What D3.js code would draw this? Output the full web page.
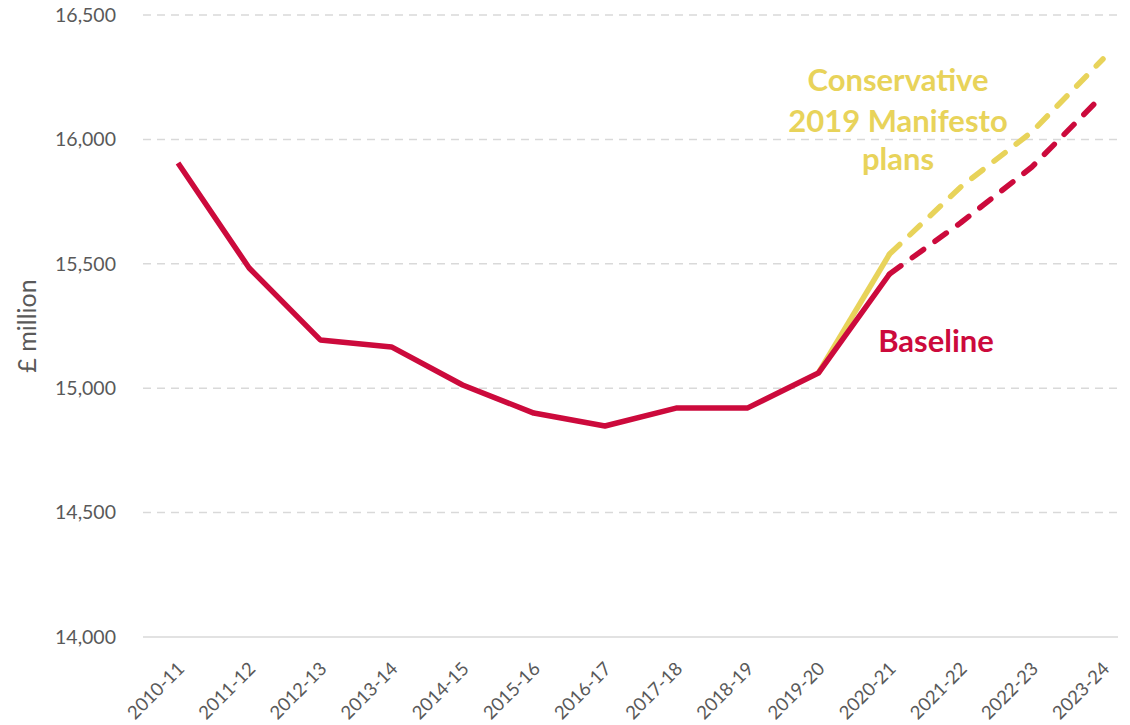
<!DOCTYPE html>
<html><head><meta charset="utf-8">
<script src="https://cdn.jsdelivr.net/npm/d3@7"></script>
<style>body{margin:0;background:#fff;} svg{display:block;font-family:Lato,"Open Sans",sans-serif;}</style>
</head><body>
<svg id="c" width="1130" height="725"></svg>
<script>
const categories = ["2010-11","2011-12","2012-13","2013-14","2014-15","2015-16","2016-17","2017-18","2018-19","2019-20","2020-21","2021-22","2022-23","2023-24"];
const baselineActual = [15905,15483,15194,15166,15013,14900,14848,14920,14920,15061,15459,null,null,null];
const baselineProjected = [null,null,null,null,null,null,null,null,null,null,15459,15665,15889,16178];
const conservativeActual = [null,null,null,null,null,null,null,null,null,15061,15539,null,null,null];
const conservativeProjected = [null,null,null,null,null,null,null,null,null,null,15539,15809,16030,16323];
const yTicks = [14000,14500,15000,15500,16000,16500];

const svg = d3.select("#c");
const x = d3.scalePoint().domain(categories).range([178,1103]);
const y = d3.scaleLinear().domain([14000,16500]).range([637,15]);
const red = "#CC0A3C", yellow = "#E8D35A", grey = "#595959";

// gridlines
svg.append("g").selectAll("line").data(yTicks).join("line")
  .attr("x1",143).attr("x2",1118)
  .attr("y1",d=>y(d)).attr("y2",d=>y(d))
  .attr("stroke","#d9d9d9").attr("stroke-width",1.5)
  .attr("stroke-dasharray",d=>d===14000?null:"8,6");

// y axis labels
const yAxis = d3.axisLeft(y).tickValues(yTicks).tickFormat(d3.format(",")).tickSize(0).tickPadding(0);
const gy = svg.append("g").attr("transform","translate(116,0)").call(yAxis);
gy.select(".domain").remove();
gy.selectAll("text").attr("fill",grey).style("font-size","19.5px").style("font-family","Lato,'Open Sans',sans-serif");

svg.append("text").attr("transform","translate(36,326) rotate(-90)")
  .attr("text-anchor","middle").attr("fill",grey).style("font-size","25px").text("£ million");

// x axis
const xAxis = d3.axisBottom(x).tickSize(0).tickPadding(0);
const gx = svg.append("g").attr("transform","translate(0,637)").call(xAxis);
gx.select(".domain").remove();
gx.selectAll("text").attr("fill",grey).style("font-size","18.5px").style("font-family","Lato,'Open Sans',sans-serif")
  .attr("text-anchor","end").attr("dy",null).attr("y",0)
  .attr("transform","translate(7,33) rotate(-45)");

const line = d3.line().defined(d=>d!=null).x((d,i)=>x(categories[i])).y(d=>y(d));
function draw(data,color,dash){
  svg.append("path").datum(data).attr("d",line).attr("fill","none")
    .attr("stroke",color).attr("stroke-width",5.5).attr("stroke-linejoin","round")
    .attr("stroke-linecap",dash?"round":"butt")
    .attr("stroke-dasharray",dash?"14,14":null);
}
draw(conservativeActual,yellow,false);
draw(conservativeProjected,yellow,true);
draw(baselineActual,red,false);
draw(baselineProjected,red,true);

// annotations
const ann = svg.append("g").attr("text-anchor","middle").style("font-size","31px").style("font-weight","bold");
ann.append("text").attr("x",898).attr("y",91).attr("fill",yellow).text("Conservative");
ann.append("text").attr("x",898).attr("y",132).attr("fill",yellow).text("2019 Manifesto");
ann.append("text").attr("x",898).attr("y",170).attr("fill",yellow).text("plans");
ann.append("text").attr("x",936).attr("y",352).attr("fill",red).text("Baseline");
</script>
</body></html>
